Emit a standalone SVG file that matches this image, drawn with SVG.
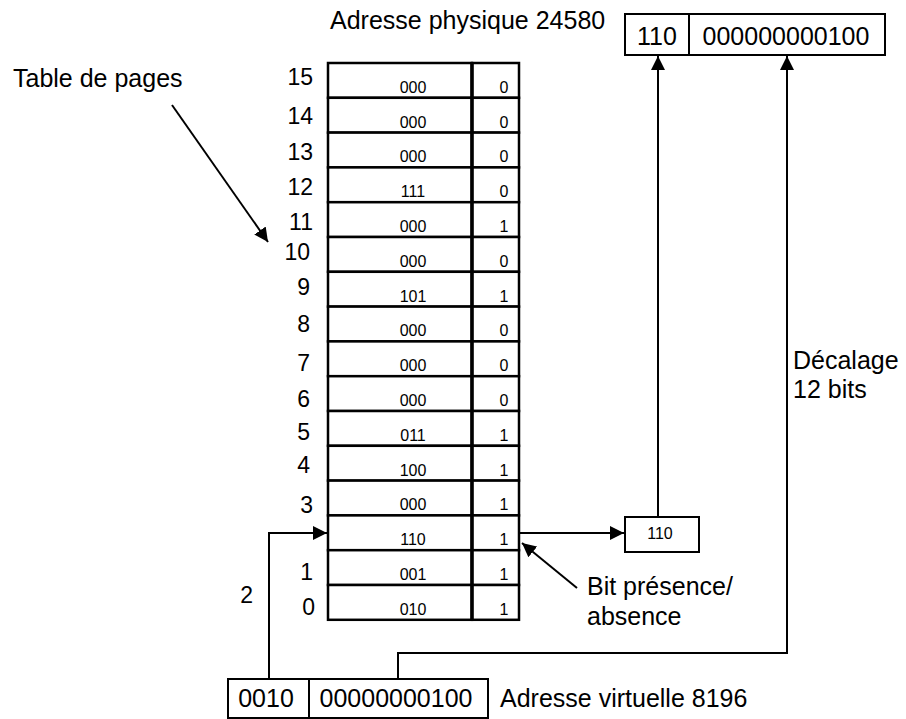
<svg xmlns="http://www.w3.org/2000/svg" width="906" height="719" viewBox="0 0 906 719">
<style>
  text { font-family: "Liberation Sans", Arial, sans-serif; fill: #000; }
  .lbl { font-size: 25px; }
  .num { font-size: 23px; text-anchor: end; }
  .cell { font-size: 16px; text-anchor: middle; }
  .cellr { fill: #fff; stroke: #000; stroke-width: 2.5; }
  .box { fill: #fff; stroke: #000; stroke-width: 2; }
  .big { font-size: 25px; text-anchor: middle; }
  .conn { fill: none; stroke: #000; stroke-width: 2; }
</style>
<defs>
  <marker id="ah" viewBox="0 0 14 14" refX="14" refY="7" markerWidth="14" markerHeight="14" markerUnits="userSpaceOnUse" orient="auto">
    <path d="M0,0 L14,7 L0,14 z" fill="#000"/>
  </marker>
</defs>
<rect width="906" height="719" fill="#fff"/>

<g id="page-table">
  <g id="row-15"><rect class="cellr" x="328" y="63" width="144" height="34.8"/><rect class="cellr" x="472" y="63" width="47" height="34.8"/><text class="cell" x="413" y="92.8">000</text><text class="cell" x="504" y="92.8">0</text></g>
  <g id="row-14"><rect class="cellr" x="328" y="97.8" width="144" height="34.8"/><rect class="cellr" x="472" y="97.8" width="47" height="34.8"/><text class="cell" x="413" y="127.6">000</text><text class="cell" x="504" y="127.6">0</text></g>
  <g id="row-13"><rect class="cellr" x="328" y="132.6" width="144" height="34.8"/><rect class="cellr" x="472" y="132.6" width="47" height="34.8"/><text class="cell" x="413" y="162.4">000</text><text class="cell" x="504" y="162.4">0</text></g>
  <g id="row-12"><rect class="cellr" x="328" y="167.4" width="144" height="34.8"/><rect class="cellr" x="472" y="167.4" width="47" height="34.8"/><text class="cell" x="413" y="197.2">111</text><text class="cell" x="504" y="197.2">0</text></g>
  <g id="row-11"><rect class="cellr" x="328" y="202.2" width="144" height="34.8"/><rect class="cellr" x="472" y="202.2" width="47" height="34.8"/><text class="cell" x="413" y="232">000</text><text class="cell" x="504" y="232">1</text></g>
  <g id="row-10"><rect class="cellr" x="328" y="237" width="144" height="34.8"/><rect class="cellr" x="472" y="237" width="47" height="34.8"/><text class="cell" x="413" y="266.8">000</text><text class="cell" x="504" y="266.8">0</text></g>
  <g id="row-9"><rect class="cellr" x="328" y="271.8" width="144" height="34.8"/><rect class="cellr" x="472" y="271.8" width="47" height="34.8"/><text class="cell" x="413" y="301.6">101</text><text class="cell" x="504" y="301.6">1</text></g>
  <g id="row-8"><rect class="cellr" x="328" y="306.6" width="144" height="34.8"/><rect class="cellr" x="472" y="306.6" width="47" height="34.8"/><text class="cell" x="413" y="336.4">000</text><text class="cell" x="504" y="336.4">0</text></g>
  <g id="row-7"><rect class="cellr" x="328" y="341.4" width="144" height="34.8"/><rect class="cellr" x="472" y="341.4" width="47" height="34.8"/><text class="cell" x="413" y="371.2">000</text><text class="cell" x="504" y="371.2">0</text></g>
  <g id="row-6"><rect class="cellr" x="328" y="376.2" width="144" height="34.8"/><rect class="cellr" x="472" y="376.2" width="47" height="34.8"/><text class="cell" x="413" y="406">000</text><text class="cell" x="504" y="406">0</text></g>
  <g id="row-5"><rect class="cellr" x="328" y="411" width="144" height="34.8"/><rect class="cellr" x="472" y="411" width="47" height="34.8"/><text class="cell" x="413" y="440.8">011</text><text class="cell" x="504" y="440.8">1</text></g>
  <g id="row-4"><rect class="cellr" x="328" y="445.8" width="144" height="34.8"/><rect class="cellr" x="472" y="445.8" width="47" height="34.8"/><text class="cell" x="413" y="475.6">100</text><text class="cell" x="504" y="475.6">1</text></g>
  <g id="row-3"><rect class="cellr" x="328" y="480.6" width="144" height="34.8"/><rect class="cellr" x="472" y="480.6" width="47" height="34.8"/><text class="cell" x="413" y="510.4">000</text><text class="cell" x="504" y="510.4">1</text></g>
  <g id="row-2"><rect class="cellr" x="328" y="515.4" width="144" height="34.8"/><rect class="cellr" x="472" y="515.4" width="47" height="34.8"/><text class="cell" x="413" y="545.2">110</text><text class="cell" x="504" y="545.2">1</text></g>
  <g id="row-1"><rect class="cellr" x="328" y="550.2" width="144" height="34.8"/><rect class="cellr" x="472" y="550.2" width="47" height="34.8"/><text class="cell" x="413" y="580">001</text><text class="cell" x="504" y="580">1</text></g>
  <g id="row-0"><rect class="cellr" x="328" y="585" width="144" height="34.8"/><rect class="cellr" x="472" y="585" width="47" height="34.8"/><text class="cell" x="413" y="614.8">010</text><text class="cell" x="504" y="614.8">1</text></g>
  <line x1="472" y1="63" x2="472" y2="620" stroke="#000" stroke-width="3.5"/>
</g>

<g id="row-numbers">
  <text class="num" x="313" y="85">15</text>
  <text class="num" x="313" y="124">14</text>
  <text class="num" x="313" y="160">13</text>
  <text class="num" x="313" y="195">12</text>
  <text class="num" x="313" y="230">11</text>
  <text class="num" x="310" y="260">10</text>
  <text class="num" x="310" y="295">9</text>
  <text class="num" x="310" y="332">8</text>
  <text class="num" x="310" y="371">7</text>
  <text class="num" x="310" y="407">6</text>
  <text class="num" x="310" y="440">5</text>
  <text class="num" x="310" y="473">4</text>
  <text class="num" x="313" y="513">3</text>
  <text class="num" x="313" y="580">1</text>
  <text class="num" x="315" y="615">0</text>
</g>

<g id="label-table"><text class="lbl" x="13" y="87">Table de pages</text></g>
<g id="label-phys"><text class="lbl" x="330" y="29">Adresse physique 24580</text></g>
<g id="label-virt"><text class="lbl" x="500" y="707">Adresse virtuelle 8196</text></g>
<g id="label-offset"><text class="lbl" x="793" y="369">Décalage</text><text class="lbl" x="793" y="398">12 bits</text></g>
<g id="label-bit"><text class="lbl" x="587" y="595">Bit présence/</text><text class="lbl" x="587" y="625">absence</text></g>
<g id="label-2"><text class="num" x="253" y="603">2</text></g>

<g id="phys-addr">
  <rect class="box" x="625" y="14" width="64" height="41"/>
  <rect class="box" x="689" y="14" width="196" height="41"/>
  <text class="big" x="657" y="45">110</text>
  <text class="big" x="786" y="45">000000000100</text>
</g>

<g id="frame-box">
  <rect class="box" x="625" y="517" width="74" height="35"/>
  <text class="cell" x="660" y="539">110</text>
</g>

<g id="virt-addr">
  <rect class="box" x="228" y="679" width="81" height="39"/>
  <rect class="box" x="309" y="679" width="179" height="39"/>
  <text class="big" x="266" y="707">0010</text>
  <text class="big" x="396" y="707">00000000100</text>
</g>

<g id="connectors">
  <line class="conn" x1="172" y1="105" x2="268" y2="242" marker-end="url(#ah)"/>
  <polyline class="conn" points="269,679 269,533 327,533" marker-end="url(#ah)"/>
  <line class="conn" x1="519" y1="533" x2="624" y2="533" marker-end="url(#ah)"/>
  <line class="conn" x1="658" y1="517" x2="658" y2="56" marker-end="url(#ah)"/>
  <polyline class="conn" points="398,679 398,653 787,653 787,56" marker-end="url(#ah)"/>
  <line class="conn" x1="577" y1="588" x2="522" y2="543" marker-end="url(#ah)"/>
</g>
</svg>
